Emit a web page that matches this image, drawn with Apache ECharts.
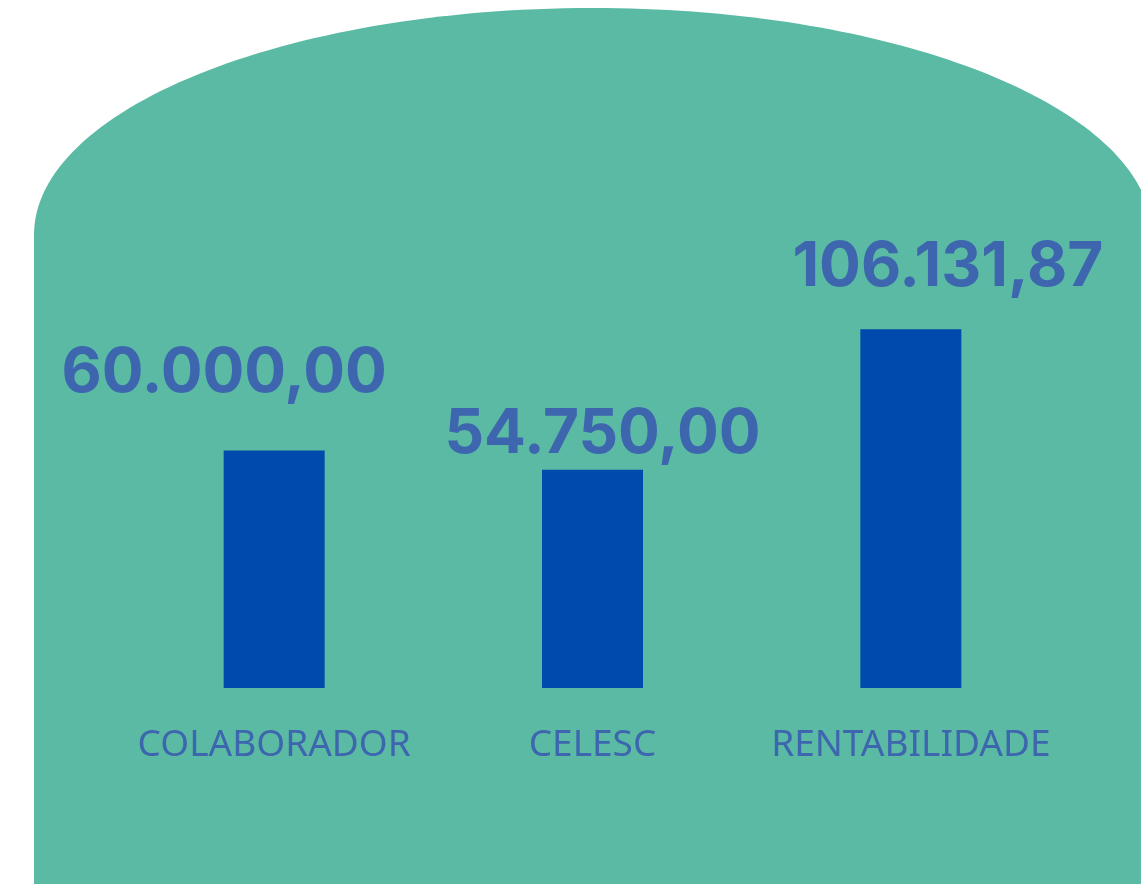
<!DOCTYPE html>
<html>
<head>
<meta charset="utf-8">
<script src="https://cdn.jsdelivr.net/npm/echarts@6/dist/echarts.min.js"></script>
<style>
html,body{margin:0;padding:0;background:#ffffff;}
#chart{width:1141px;height:884px;}
</style>
</head>
<body>
<div id="chart"></div>
<script>
// ---- data ----
var categories = ['COLABORADOR', 'CELESC', 'RENTABILIDADE'];
var values = [60000.00, 54750.00, 106131.87];

// ---- label styling (offsets only, not data) ----
var labelShift = [[-50, -46], [10, -4], [37, -31]];

function fmtBR(v) {
  var parts = v.toFixed(2).split('.');
  var intPart = parts[0].replace(/\B(?=(\d{3})+(?!\d))/g, '.');
  return intPart + ',' + parts[1];
}

var GREEN = '#5ABAA3';
var BAR = '#004AAD';
var TXT = '#3D66AF';

var chart = echarts.init(document.getElementById('chart'), null, {renderer: 'canvas'});

var seriesData = values.map(function (v, i) {
  return {
    value: v,
    label: { offset: labelShift[i] }
  };
});

var option = {
  backgroundColor: '#ffffff',
  animation: false,
  graphic: [
    {
      type: 'ellipse', z: -10, silent: true,
      shape: { cx: 593, cy: 235, rx: 559, ry: 227 },
      style: { fill: GREEN }
    },
    {
      type: 'rect', z: -10, silent: true,
      shape: { x: 34, y: 235, width: 1200, height: 700 },
      style: { fill: GREEN }
    }
  ],
  grid: { left: 115, right: 71, top: 199, bottom: 196, containLabel: false },
  xAxis: {
    type: 'category',
    data: categories,
    axisLine: { show: false },
    axisTick: { show: false },
    axisLabel: {
      interval: 0,
      margin: 39,
      color: TXT,
      fontFamily: 'Noto Sans',
      fontSize: 37,
      fontWeight: 'normal'
    }
  },
  yAxis: {
    type: 'log',
    logBase: 10,
    min: 19600,
    max: 196000,
    show: false,
    splitLine: { show: false }
  },
  series: [{
    type: 'bar',
    data: seriesData,
    barWidth: 101,
    clip: true,
    itemStyle: { color: BAR },
    label: {
      show: true,
      position: 'top',
      distance: 0,
      color: TXT,
      fontFamily: 'Inter',
      fontWeight: 'bold',
      fontSize: 62,
      formatter: function (p) { return fmtBR(p.value); }
    }
  }]
};
chart.setOption(option);
</script>
</body>
</html>
